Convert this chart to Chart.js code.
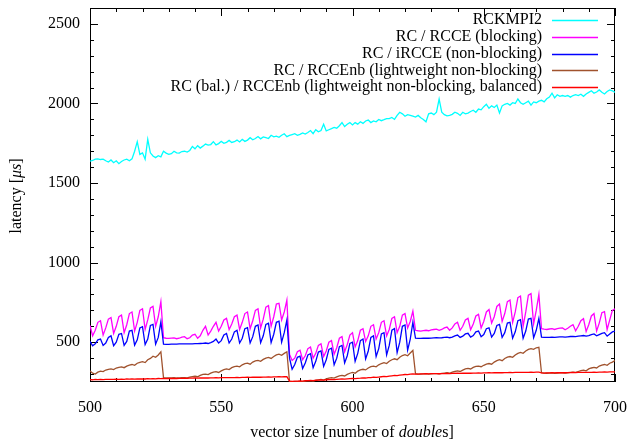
<!DOCTYPE html>
<html><head><meta charset="utf-8">
<script src="https://cdn.jsdelivr.net/npm/chart.js@4/dist/chart.umd.min.js"></script>
<style>html,body{margin:0;padding:0;background:#fff}canvas{display:block}</style>
</head><body>
<canvas id="c" width="630" height="445"></canvas>
<script>
// vector sizes (x categories)
const vectorSizes = [
500,501,502,503,504,505,506,507,508,509,510,511,512,513,514,515,516,517,518,519,
520,521,522,523,524,525,526,527,528,529,530,531,532,533,534,535,536,537,538,539,
540,541,542,543,544,545,546,547,548,549,550,551,552,553,554,555,556,557,558,559,
560,561,562,563,564,565,566,567,568,569,570,571,572,573,574,575,576,577,578,579,
580,581,582,583,584,585,586,587,588,589,590,591,592,593,594,595,596,597,598,599,
600,601,602,603,604,605,606,607,608,609,610,611,612,613,614,615,616,617,618,619,
620,621,622,623,624,625,626,627,628,629,630,631,632,633,634,635,636,637,638,639,
640,641,642,643,644,645,646,647,648,649,650,651,652,653,654,655,656,657,658,659,
660,661,662,663,664,665,666,667,668,669,670,671,672,673,674,675,676,677,678,679,
680,681,682,683,684,685,686,687,688,689,690,691,692,693,694,695,696,697,698,699,
700];

const rckmpi2 = [
1638,1642,1650,1652,1648,1650,1640,1632,1645,1628,
1640,1622,1636,1645,1650,1640,1652,1700,1760,1680,
1690,1650,1775,1690,1670,1660,1672,1665,1700,1688,
1680,1685,1700,1690,1688,1698,1700,1695,1705,1730,
1715,1735,1720,1732,1745,1738,1742,1760,1740,1748,
1762,1750,1756,1768,1755,1760,1770,1758,1775,1762,
1770,1785,1772,1780,1792,1778,1790,1785,1780,1800,
1790,1795,1788,1800,1810,1792,1800,1805,1810,1800,
1806,1815,1808,1818,1830,1810,1835,1822,1830,1870,
1828,1835,1842,1850,1845,1860,1880,1855,1870,1880,
1865,1880,1870,1885,1875,1890,1896,1880,1890,1885,
1900,1892,1898,1905,1905,1912,1900,1925,1945,1935,
1920,1930,1925,1920,1915,1925,1910,1900,1885,1935,
1940,1930,1945,2028,1945,1930,1922,1925,1932,1945,
1938,1925,1945,1935,1940,1950,1958,1945,1965,1960,
1980,1995,1970,1985,1975,1990,1940,1985,1995,2000,
1990,2005,2000,2028,2005,1995,2005,2015,1990,2010,
2005,2015,2020,2010,2030,2040,2065,2035,2055,2045,
2050,2045,2050,2040,2050,2055,2050,2058,2045,2060,
2070,2080,2065,2072,2085,2070,2060,2075,2085,2080,
2070];

const rcRcceBlocking = [
605,540,575,625,635,545,590,645,655,555,
600,660,670,560,610,680,690,570,625,700,
710,580,640,715,725,600,660,755,528,525,
524,526,527,522,525,532,535,522,528,545,
550,525,540,575,600,545,570,600,625,570,
600,640,650,580,615,660,670,580,625,680,
690,585,635,700,710,590,645,720,730,600,
660,740,745,640,690,765,425,385,400,440,
450,390,415,460,470,400,430,480,490,410,
445,500,510,425,465,525,535,440,485,545,
560,470,510,575,585,505,540,600,610,520,
560,625,635,540,580,650,660,560,600,670,
680,590,630,695,575,572,570,573,575,572,
578,580,582,575,580,590,595,575,590,615,
625,575,600,640,650,578,615,665,675,590,
630,690,705,620,660,725,740,630,680,755,
765,625,690,780,790,600,690,795,805,615,
700,800,585,582,580,583,585,580,585,588,
590,578,588,600,610,572,600,635,648,568,
610,665,680,570,620,685,692,580,640,700,
710];

const rcIrcceNonBlocking = [
505,478,490,515,520,480,495,530,540,478,
500,550,555,480,505,570,575,482,515,590,
598,485,520,605,612,488,530,628,488,487,
487,488,488,488,489,489,489,490,490,490,
491,491,492,493,495,492,498,505,520,495,
510,545,555,495,520,565,575,495,525,585,
592,495,535,600,608,497,540,612,620,498,
550,625,632,500,560,640,400,330,360,405,
412,335,370,420,428,340,380,438,445,348,
390,455,462,358,400,472,480,370,415,492,
500,380,430,510,520,395,445,530,540,410,
460,552,560,420,480,575,585,435,500,600,
608,450,520,625,525,524,524,525,526,525,
526,527,528,527,528,530,532,528,532,540,
545,530,538,552,556,532,542,565,570,535,
548,585,590,532,555,605,612,530,560,620,
625,525,565,635,642,525,570,645,650,528,
575,650,532,530,530,531,532,531,532,533,
534,532,534,536,537,535,538,540,542,538,
542,548,552,540,548,555,560,538,552,565,
570];

const rcRccenbLightweight = [
320,305,300,312,318,315,325,330,332,328,
338,342,345,340,350,356,360,355,368,374,
378,372,390,398,412,405,420,440,278,276,
275,276,277,275,276,278,278,276,280,284,
286,283,292,298,300,297,306,312,315,310,
320,328,332,328,340,346,350,345,358,365,
368,362,375,382,386,380,392,400,404,398,
410,420,425,418,430,440,255,252,250,252,
254,252,256,258,258,256,260,264,266,262,
270,275,278,274,282,288,292,288,298,305,
310,305,318,326,330,326,338,346,350,345,
358,366,372,366,380,390,396,390,405,416,
422,415,432,448,302,300,300,301,302,300,
301,302,303,301,304,306,308,305,312,316,
320,316,325,332,336,332,342,348,350,346,
355,362,366,362,375,384,390,384,398,406,
410,405,420,430,436,430,445,455,460,455,
465,468,308,306,305,306,307,305,306,307,
308,306,308,310,312,310,316,322,325,320,
332,338,342,338,350,356,360,355,368,375,
385];

const rcBalRccenbBalanced = [
265,264,266,265,266,265,267,266,267,266,
268,267,268,267,269,268,269,268,270,269,
270,269,271,270,271,270,272,271,272,271,
272,272,273,272,273,273,274,273,274,274,
275,274,275,275,276,275,276,276,277,276,
277,277,278,277,278,278,279,278,279,279,
280,279,280,280,281,280,281,281,282,281,
282,282,283,282,283,284,256,254,255,256,
257,256,258,259,260,259,261,262,263,262,
264,265,266,265,267,268,269,268,270,271,
272,271,273,274,276,275,277,278,280,279,
281,283,285,284,287,289,291,290,293,295,
297,296,299,301,300,300,301,301,302,301,
302,302,303,302,303,303,304,303,304,304,
305,304,305,305,306,305,306,306,307,306,
307,307,308,307,308,308,309,308,309,309,
310,309,310,310,311,310,311,311,312,311,
312,312,307,306,307,307,308,307,308,308,
309,308,309,309,310,309,310,310,311,310,
311,311,312,311,312,312,313,312,313,313,
314];

const seriesLabels = [
  'RCKMPI2',
  'RC / RCCE (blocking)',
  'RC / iRCCE (non-blocking)',
  'RC / RCCEnb (lightweight non-blocking)',
  'RC (bal.) / RCCEnb (lightweight non-blocking, balanced)'
];
const seriesColors = ['#00ffff','#ff00ff','#0000ff','#a0522d','#ff0000'];
const seriesValues = [rckmpi2, rcRcceBlocking, rcIrcceNonBlocking, rcRccenbLightweight, rcBalRccenbBalanced];

const xTickLabels = [500,550,600,650,700];
const xMinorTicks = [510,520,530,540,560,570,580,590,610,620,630,640,660,670,680,690];
const yTickLabels = [500,1000,1500,2000,2500];
const yMinorTicks = [300,400,600,700,800,900,1100,1200,1300,1400,1600,1700,1800,1900,2100,2200,2300,2400,2600];

const FONT = '"Liberation Serif","Times New Roman",serif';
const FS = 16;

const datasets = seriesValues.map((vals, i) => ({
  label: seriesLabels[i],
  data: vectorSizes.map((x, j) => ({x: x, y: vals[j]})),
  borderColor: seriesColors[i],
  backgroundColor: seriesColors[i],
  borderWidth: 1.3,
  pointRadius: 0,
  tension: 0,
  fill: false,
  order: 4 - i
}));

function drawMixed(ctx, parts, cx, cy) {
  let total = 0;
  parts.forEach(p => { ctx.font = (p.italic ? 'italic ' : '') + FS + 'px ' + FONT; p.w = ctx.measureText(p.t).width; total += p.w; });
  let x = cx - total / 2;
  ctx.textAlign = 'left';
  ctx.textBaseline = 'middle';
  parts.forEach(p => { ctx.font = (p.italic ? 'italic ' : '') + FS + 'px ' + FONT; ctx.fillText(p.t, x, cy); x += p.w; });
}

const decor = {
  id: 'decor',
  beforeDatasetsDraw(chart) {
    const ctx = chart.ctx, ca = chart.chartArea;
    const xs = chart.scales.x, ys = chart.scales.y;
    ctx.save();
    ctx.strokeStyle = '#000';
    ctx.lineWidth = 1;
    ctx.beginPath();
    const tick = (list, len) => {
      list.forEach(v => {
        const px = Math.round(xs.getPixelForValue(v)) + 0.5;
        ctx.moveTo(px, ca.bottom); ctx.lineTo(px, ca.bottom - len);
        ctx.moveTo(px, ca.top); ctx.lineTo(px, ca.top + len);
      });
    };
    const ytick = (list, len) => {
      list.forEach(v => {
        const py = Math.round(ys.getPixelForValue(v)) + 0.5;
        ctx.moveTo(ca.left, py); ctx.lineTo(ca.left + len, py);
        ctx.moveTo(ca.right, py); ctx.lineTo(ca.right - len, py);
      });
    };
    tick(xTickLabels, 8); tick(xMinorTicks, 4);
    ytick(yTickLabels, 8); ytick(yMinorTicks, 4);
    ctx.stroke();
    ctx.strokeRect(ca.left + 0.5, ca.top + 0.5, ca.right - ca.left - 1, ca.bottom - ca.top - 1);
    ctx.restore();
  },
  afterDraw(chart) {
    const ctx = chart.ctx;
    ctx.save();
    ctx.fillStyle = '#000';
    drawMixed(ctx, [{t:'vector size [number of '},{t:'double', italic:true},{t:'s]'}], 352, 433);
    ctx.save();
    ctx.translate(17, 196);
    ctx.rotate(-Math.PI / 2);
    drawMixed(ctx, [{t:'latency ['},{t:'\u03bcs', italic:true},{t:']'}], 0, 0);
    ctx.restore();
    ctx.font = FS + 'px ' + FONT;
    ctx.textAlign = 'right';
    ctx.textBaseline = 'middle';
    for (let i = 0; i < seriesLabels.length; i++) {
      const y = 20 + i * 16.8;
      ctx.fillStyle = '#000';
      ctx.fillText(seriesLabels[i], 542, y);
      ctx.strokeStyle = seriesColors[i];
      ctx.lineWidth = 1.3;
      ctx.beginPath();
      ctx.moveTo(552, Math.round(y) + 0.5);
      ctx.lineTo(598, Math.round(y) + 0.5);
      ctx.stroke();
    }
    ctx.restore();
  }
};

const zeroPad = s => { s.paddingLeft = 0; s.paddingRight = 0; s.paddingTop = 0; s.paddingBottom = 0; };

new Chart(document.getElementById('c'), {
  type: 'line',
  data: { datasets: datasets },
  options: {
    responsive: false,
    animation: false,
    devicePixelRatio: 1,
    layout: { padding: { top: 8, right: 15, left: 0, bottom: 0 } },
    plugins: { legend: { display: false }, tooltip: { enabled: false } },
    scales: {
      x: {
        type: 'linear', min: 500, max: 700,
        afterBuildTicks: s => { s.ticks = xTickLabels.map(v => ({value: v})); },
        afterFit: s => { s.height = 63; zeroPad(s); },
        grid: { display: false, drawTicks: false },
        border: { display: false },
        ticks: { font: { family: FONT, size: FS }, color: '#000', padding: 16, maxRotation: 0, autoSkip: false, callback: v => String(v) }
      },
      y: {
        type: 'linear', min: 250, max: 2600,
        afterBuildTicks: s => { s.ticks = yTickLabels.map(v => ({value: v})); },
        afterFit: s => { s.width = 90; zeroPad(s); },
        grid: { display: false, drawTicks: false },
        border: { display: false },
        ticks: { font: { family: FONT, size: FS }, color: '#000', padding: 10, autoSkip: false, callback: v => String(v) }
      }
    }
  },
  plugins: [decor]
});
</script>
</body></html>
